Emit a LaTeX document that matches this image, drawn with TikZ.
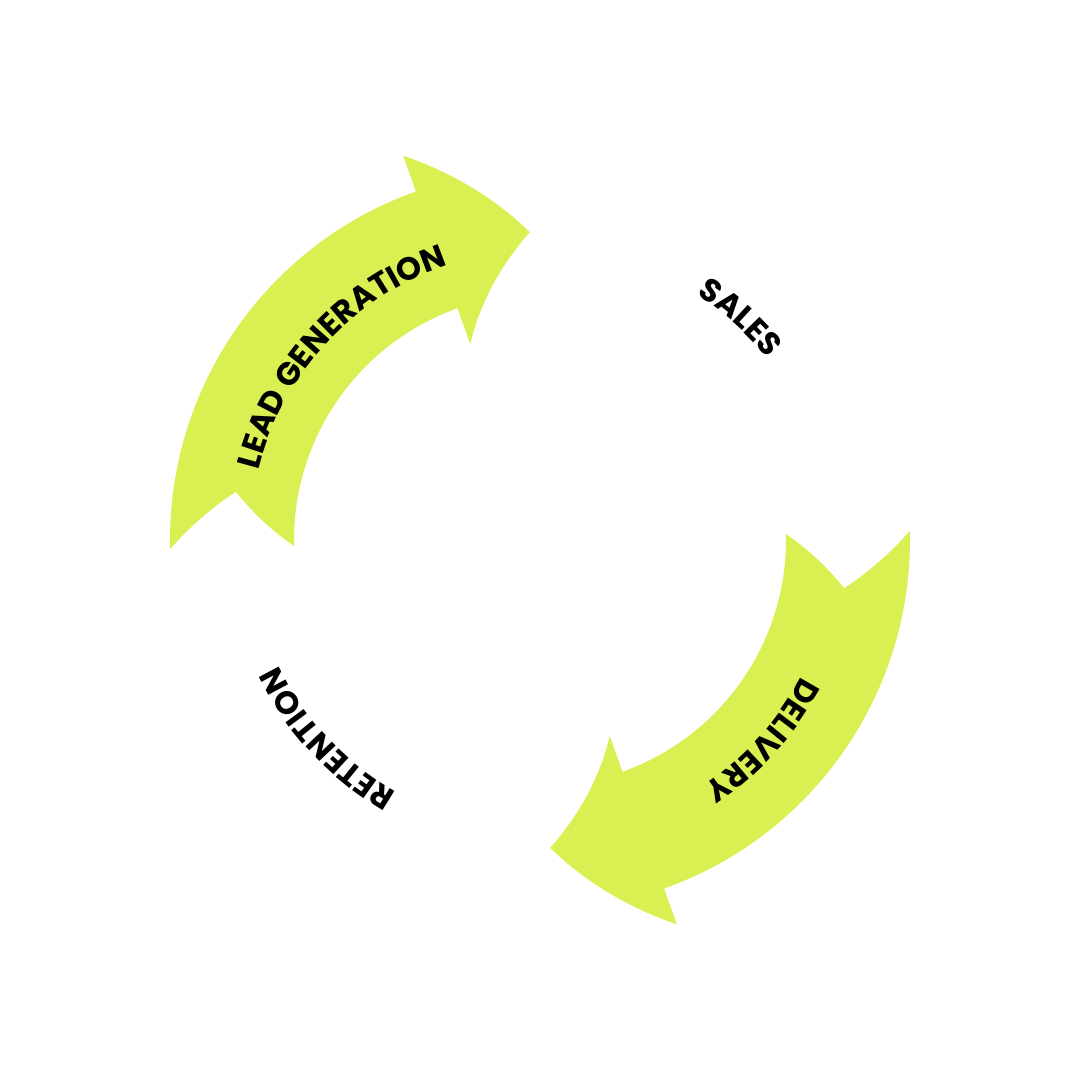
\documentclass[tikz,border=0pt]{standalone}
\usepackage{fontspec}
\setmainfont{Poppins}
\usetikzlibrary{decorations.text}

\definecolor{limegreen}{RGB}{218,239,82}

\tikzset{
  every picture/.style={line width=0.75pt},
  arrowfill/.style={fill=limegreen, draw=none},
  arclabel/.style={decorate, decoration={text along path, text align=center,
    text={|\bfseries\fontsize{32}{34}\selectfont|#1}}}
}

% curved cycle arrow, tail at angle #1, running clockwise
\newcommand{\cyclearrow}[1]{%
  \fill[arrowfill] ({#1}:370) arc[start angle=#1, end angle=#1-71.8, radius=370]
    -- ({#1-71.8}:408)
    -- plot[domain=0:1, samples=16] ({#1-71.8-17.7*\x}:{408-100*\x})
    -- plot[domain=0:1, samples=16] ({#1-89.5+17.7*\x}:{308-100*\x})
    -- ({#1-71.8}:246) arc[start angle=#1-71.8, end angle=#1, radius=246]
    -- plot[domain=0:1, samples=16] ({#1-10.4*\x}:{246+62*\x})
    -- plot[domain=0:1, samples=16] ({#1-10.4+10.4*\x}:{308+62*\x})
    -- cycle;}

\begin{document}
\begin{tikzpicture}[x=1pt,y=1pt]
\useasboundingbox (-540,-540) rectangle (540,540);

%Shape: Arrow [lead generation]
\cyclearrow{181.4}
%Shape: Arrow [delivery]
\cyclearrow{1.4}

% Text along arcs
\path[arclabel={LEAD GENERATION}] (182.3:290) arc[start angle=182.3, end angle=92.3, radius=290];
\path[arclabel={SALES}] (93:291) arc[start angle=93, end angle=3, radius=291];
\path[arclabel={DELIVERY}] (3:295) arc[start angle=3, end angle=-87, radius=295];
\path[arclabel={RETENTION}] (268:290) arc[start angle=268, end angle=178, radius=290];

\end{tikzpicture}
\end{document}
